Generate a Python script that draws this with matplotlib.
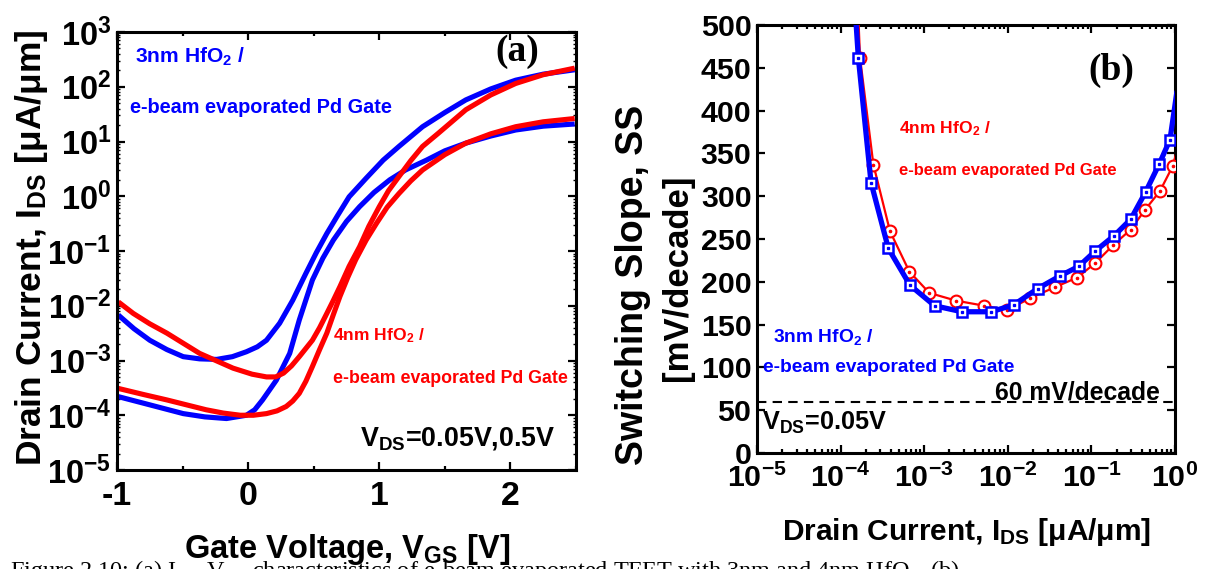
import matplotlib
matplotlib.use('Agg')
import matplotlib.pyplot as plt
import numpy as np
from matplotlib import font_manager as fm
from matplotlib.ticker import FixedLocator, LogLocator, NullFormatter, FuncFormatter, MultipleLocator

# ---------------- data ----------------
# Panel (a): transfer characteristics, log10(I_DS) vs V_GS
vgs_3nm_05 = [-0.99, -0.87, -0.75, -0.62, -0.495, -0.37, -0.24, -0.12, -0.013, 0.07, 0.14, 0.24, 0.34, 0.44,
              0.52, 0.60, 0.68, 0.77, 0.90, 1.03, 1.15, 1.33, 1.50, 1.66, 1.85, 2.04, 2.25, 2.49]
logi_3nm_05 = [-2.17, -2.42, -2.63, -2.80, -2.93, -2.97, -2.98, -2.93, -2.84, -2.75, -2.63, -2.32, -1.90, -1.41,
               -1.03, -0.68, -0.36, -0.01, 0.33, 0.66, 0.91, 1.27, 1.53, 1.76, 1.96, 2.12, 2.23, 2.31]

vgs_3nm_005 = [-0.99, -0.75, -0.495, -0.33, -0.165, -0.013, 0.05, 0.11, 0.215, 0.317, 0.39, 0.49, 0.57, 0.65,
               0.75, 0.85, 0.96, 1.08, 1.20, 1.36, 1.50, 1.66, 1.85, 2.04, 2.25, 2.49]
logi_3nm_005 = [-3.66, -3.81, -3.97, -4.03, -4.06, -4.00, -3.90, -3.72, -3.36, -2.87, -2.26, -1.53, -1.13, -0.80,
                -0.46, -0.19, 0.07, 0.30, 0.48, 0.66, 0.83, 0.97, 1.10, 1.21, 1.28, 1.32]

vgs_4nm_05 = [-0.99, -0.876, -0.75, -0.62, -0.37, -0.115, 0.03, 0.14, 0.21, 0.27, 0.33, 0.39, 0.49, 0.545, 0.60,
              0.65, 0.70, 0.77, 0.85, 0.92, 1.00, 1.07, 1.15, 1.24, 1.33, 1.45, 1.66, 1.85, 2.04, 2.25, 2.49]
logi_4nm_05 = [-1.93, -2.14, -2.33, -2.50, -2.87, -3.14, -3.25, -3.30, -3.30, -3.23, -3.10, -2.93, -2.63, -2.40,
               -2.14, -1.90, -1.65, -1.28, -0.92, -0.55, -0.19, 0.10, 0.36, 0.65, 0.91, 1.15, 1.58, 1.85, 2.06,
               2.22, 2.34]

vgs_4nm_005 = [-0.99, -0.80, -0.62, -0.47, -0.32, -0.19, -0.06, 0.04, 0.14, 0.22, 0.29, 0.34, 0.39, 0.44, 0.49,
               0.545, 0.60, 0.65, 0.70, 0.76, 0.82, 0.90, 0.98, 1.06, 1.15, 1.24, 1.33, 1.50, 1.66, 1.85, 2.04,
               2.25, 2.49]
logi_4nm_005 = [-3.51, -3.62, -3.72, -3.81, -3.90, -3.96, -4.00, -4.00, -3.97, -3.92, -3.84, -3.74, -3.60, -3.38,
                -3.11, -2.80, -2.50, -2.16, -1.83, -1.48, -1.16, -0.80, -0.49, -0.20, 0.05, 0.28, 0.48, 0.76, 0.97,
                1.14, 1.27, 1.36, 1.42]

# Panel (b): switching slope vs drain current (first/last entries only extend the line)
logids_3nm = [-3.84, -3.788, -3.636, -3.429, -3.17, -2.875, -2.548, -2.20, -1.93, -1.643, -1.372, -1.152, -0.953,
              -0.726, -0.53, -0.351, -0.187, -0.06, 0.02]
ss_3nm = [540, 462, 316, 239, 196, 172, 165, 165, 173, 192, 207, 218, 236, 254, 273, 305, 338, 366, 420]

logids_4nm = [-3.80, -3.768, -3.608, -3.409, -3.178, -2.939, -2.62, -2.28, -2.006, -1.73, -1.43, -1.168, -0.953,
              -0.738, -0.53, -0.359, -0.18, -0.028, 0.02]
ss_4nm = [540, 462, 337, 259, 212, 187, 178, 172, 167, 181, 194, 205, 222, 243, 261, 284, 306, 335, 352]

ss_limit = 60

a_yticks_exp = [3, 2, 1, 0, -1, -2, -3, -4, -5]
a_xticks = [-1, 0, 1, 2]
b_xticks_exp = [-5, -4, -3, -2, -1, 0]
b_yticks = [0, 50, 100, 150, 200, 250, 300, 350, 400, 450, 500]

# ---------------- style ----------------
names = {f.name for f in fm.fontManager.ttflist}
HAS_NARROW = 'Liberation Sans Narrow' in names
NARROW = 'Liberation Sans Narrow' if HAS_NARROW else 'Liberation Sans'
NS = 1.0 if HAS_NARROW else 0.84
SANS = 'Liberation Sans'
SERIF = 'Liberation Serif'

plt.rcParams['font.family'] = [NARROW, 'DejaVu Sans']
plt.rcParams['font.weight'] = 'bold'
plt.rcParams['mathtext.default'] = 'regular'

BLUE = '#0000FF'
RED = '#FF0000'

W, H = 1207, 569
fig = plt.figure(figsize=(W / 100, H / 100), dpi=100)


def ftxt(px, py, s, **kw):
    return fig.text(px / W, 1 - py / H, s, **kw)


def style_axes(ax):
    for sp in ax.spines.values():
        sp.set_linewidth(2.2)
    ax.tick_params(which='both', direction='in', top=True, right=True, width=1.6)
    ax.tick_params(which='major', length=6)
    ax.tick_params(which='minor', length=3)


# ---------------- panel (a) ----------------
axA = fig.add_axes([117 / W, 1 - 470 / H, 459 / W, 438 / H])
lw_a = 3.7
for xs, ys, c in [(vgs_3nm_05, logi_3nm_05, BLUE), (vgs_3nm_005, logi_3nm_005, BLUE),
                  (vgs_4nm_05, logi_4nm_05, RED), (vgs_4nm_005, logi_4nm_005, RED)]:
    axA.plot(xs, 10 ** np.array(ys), color=c, lw=lw_a, solid_capstyle='butt', solid_joinstyle='round')
axA.set_yscale('log')
axA.set_xlim(-1, 2.5)
axA.set_ylim(1e-5, 1e3)
axA.yaxis.set_major_locator(FixedLocator([10.0 ** e for e in a_yticks_exp]))
axA.yaxis.set_major_formatter(FuncFormatter(lambda v, p: r'$10^{%d}$' % int(round(np.log10(v)))))
axA.yaxis.set_minor_locator(LogLocator(base=10, subs=np.arange(2, 10), numticks=20))
axA.yaxis.set_minor_formatter(NullFormatter())
axA.xaxis.set_major_locator(FixedLocator(a_xticks))
axA.xaxis.set_major_formatter(FuncFormatter(lambda v, p: '%d' % v))
axA.xaxis.set_minor_locator(MultipleLocator(0.5))
style_axes(axA)
axA.tick_params(axis='y', which='minor', length=2.5, width=1.0)
axA.tick_params(axis='y', which='major', labelsize=28 * NS, pad=4)
axA.tick_params(axis='x', which='major', labelsize=29 * NS, pad=8)

# ---------------- panel (b) ----------------
axB = fig.add_axes([757 / W, 1 - 453 / H, 418 / W, 428 / H])
ids3 = 10 ** np.array(logids_3nm)
ids4 = 10 ** np.array(logids_4nm)
axB.plot(ids4, ss_4nm, color=RED, lw=1.6, marker='o', ms=8.5, mfc='white', mec=RED, mew=1.5,
         markevery=list(range(1, len(ids4) - 1)), zorder=3)
axB.plot(ids4[1:-1], ss_4nm[1:-1], ls='none', marker='o', ms=1.6, color=RED, zorder=3.1)
axB.plot(ids3, ss_3nm, color=BLUE, lw=3.8, marker='s', ms=7.5, mfc='white', mec=BLUE, mew=1.8,
         markevery=list(range(1, len(ids3) - 1)), zorder=4)
axB.plot(ids3[1:-1], ss_3nm[1:-1], ls='none', marker='s', ms=1.4, color=BLUE, zorder=4.1)
axB.axhline(ss_limit, color='black', lw=1.5, ls=(0, (4.5, 3)), zorder=2)
axB.set_xscale('log')
axB.set_xlim(1e-5, 1e0)
axB.set_ylim(0, 500)
axB.xaxis.set_major_locator(FixedLocator([10.0 ** e for e in b_xticks_exp]))
axB.xaxis.set_major_formatter(FuncFormatter(lambda v, p: r'$10^{%d}$' % int(round(np.log10(v)))))
axB.xaxis.set_minor_locator(LogLocator(base=10, subs=np.arange(2, 10), numticks=20))
axB.xaxis.set_minor_formatter(NullFormatter())
axB.yaxis.set_major_locator(FixedLocator(b_yticks))
style_axes(axB)
axB.tick_params(axis='both', which='major', labelsize=26 * NS, pad=4)
axB.tick_params(axis='x', which='major', pad=8)

# ---------------- annotations ----------------
# panel (a)
ftxt(135, 63, r'3nm HfO$_2$ /', color=BLUE, fontsize=18 * NS)
ftxt(130, 113, 'e-beam evaporated Pd Gate', color=BLUE, fontsize=17 * NS)
ftxt(333, 340, r'4nm HfO$_2$ /', color=RED, fontsize=15 * NS)
ftxt(333, 383, 'e-beam evaporated Pd Gate', color=RED, fontsize=15.2 * NS)
ftxt(360, 445, r'V$_{DS}$=0.05V,0.5V', color='black', fontsize=23 * NS)
ftxt(495, 61, '(a)', family=SERIF, fontsize=27, color='black')

# panel (b)
ftxt(1088, 80, '(b)', family=SERIF, fontsize=27, color='black')
ftxt(899, 133, r'4nm HfO$_2$ /', color=RED, fontsize=15 * NS)
ftxt(899, 175, 'e-beam evaporated Pd Gate', color=RED, fontsize=14.2 * NS)
ftxt(773, 342, r'3nm HfO$_2$ /', color=BLUE, fontsize=16.5 * NS)
ftxt(763, 372, 'e-beam evaporated Pd Gate', color=BLUE, fontsize=16.4 * NS)
ftxt(995, 400, '60 mV/decade', color='black', fontsize=21.2 * NS)
ftxt(762, 430, r'V$_{DS}$=0.05V', color='black', fontsize=21.6 * NS)

# axis labels
ftxt(32, 248, r'Drain Current, I$_{DS}$ [μA/μm]', family=SANS, fontsize=25.5, rotation=90,
     ha='center', va='center')
ftxt(347, 558, r'Gate Voltage, V$_{GS}$ [V]', family=SANS, fontsize=23.5, ha='center', va='baseline')
ftxt(967, 540, r'Drain Current, I$_{DS}$ [μA/μm]', family=SANS, fontsize=21.5, ha='center', va='baseline')
ftxt(633, 285, 'Switching Slope, SS', family=SANS, fontsize=27, rotation=90, ha='center', va='center')
ftxt(677, 278, '[mV/decade]', family=SANS, fontsize=25, rotation=90, ha='center', va='center')

# caption (cut off at the bottom edge)
ftxt(10, 577, r'Figure 2.10: (a) I$_{DS}$-V$_{GS}$ characteristics of e-beam evaporated TFET with 3nm and 4nm HfO$_2$. (b)',
     family=SERIF, weight='normal', fontsize=17.5, color='black', va='baseline', zorder=0)

fig.savefig('out.png', dpi=100)
